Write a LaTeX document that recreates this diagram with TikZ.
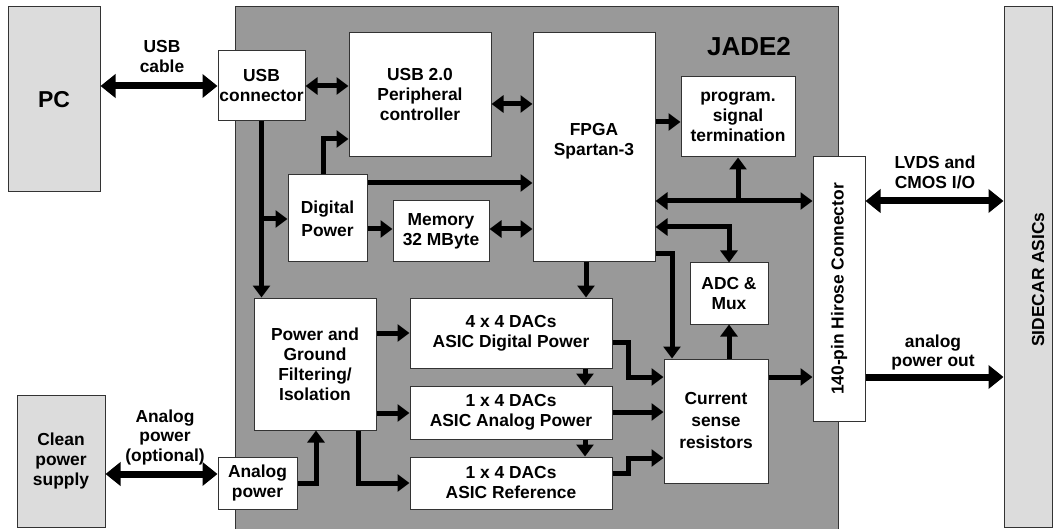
\documentclass[tikz,border=0pt]{standalone}
\usepackage{fontspec}
\setmainfont{Liberation Sans}
\usetikzlibrary{arrows.meta}
\definecolor{jadegray}{HTML}{999999}
\definecolor{extgray}{HTML}{DCDCDC}
\definecolor{edge}{HTML}{333333}
\begin{document}
\begin{tikzpicture}[x=1pt,y=-1pt,
  every node/.style={font=\bfseries\fontsize{17.4}{20}\selectfont, align=center, inner sep=0pt},
  box/.style={draw=edge, line width=1pt, fill=white},
  ext/.style={draw=edge, line width=1pt, fill=extgray},
  jadebox/.style={draw=edge, line width=1pt, fill=jadegray},
  arr/.style={line width=5pt, -{Triangle[length=12pt,width=17pt]}},
  darr/.style={line width=5pt, {Triangle[length=12pt,width=17pt]}-{Triangle[length=12pt,width=17pt]}},
  bigarr/.style={line width=7pt, -{Triangle[length=15pt,width=23pt]}},
  bigdarr/.style={line width=7pt, {Triangle[length=15pt,width=23pt]}-{Triangle[length=15pt,width=23pt]}},
  lbl/.style={font=\bfseries\fontsize{17.4}{19.5}\selectfont}]
\useasboundingbox (0,0) rectangle (1054,529);
\fill[white] (0,0) rectangle (1054,529);

% outer blocks
\node[jadebox, minimum width=603, minimum height=533] (jade) at (536.5,273.5) {};
\node[ext, minimum width=92, minimum height=185, font=\bfseries\fontsize{23}{26}\selectfont] (pc) at (54,99.5) {PC};
\node[ext, minimum width=88, minimum height=132] (clean) at (61,461) {Clean\\power\\supply};
\node[ext, minimum width=48, minimum height=520] (sidecar) at (1028,267) {};
\node[rotate=90] (sidetext) at (1038,279.5) {SIDECAR ASICs};
\node[font=\bfseries\fontsize{26}{30}\selectfont] (jadetext) at (749,47) {JADE2};

% inner blocks
\node[box, minimum width=87, minimum height=70] (usbc) at (261.5,86) {USB\\connector};
\node[box, minimum width=142, minimum height=124] (usb2) at (420,95) {USB 2.0\\Peripheral\\controller};
\node[box, minimum width=122, minimum height=229] (fpga) at (594,147.5) {};
\node (fpgatext) at (594,141) {FPGA\\Spartan-3};
\node[box, minimum width=114, minimum height=80] (prog) at (738,117) {program.\\signal\\termination};
\node[box, minimum width=52, minimum height=264] (hirose) at (839,289) {};
\node[rotate=90] (hirosetext) at (839,289) {140-pin Hirose Connector};
\node[box, minimum width=79, minimum height=87, font=\bfseries\fontsize{17.4}{23}\selectfont] (dp) at (327.5,218.5) {Digital\\Power};
\node[box, minimum width=96, minimum height=61] (mem) at (441,231.5) {Memory\\32 MByte};
\node[box, minimum width=78, minimum height=61] (adc) at (729,293.5) {ADC \&\\Mux};
\node[box, minimum width=104, minimum height=124, font=\bfseries\fontsize{17.4}{22}\selectfont] (cur) at (716,421) {Current\\sense\\resistors};
\node[box, minimum width=202, minimum height=70] (dac1) at (511,333) {4 x 4 DACs\\ASIC Digital Power};
\node[box, minimum width=202, minimum height=53] (dac2) at (511,412.5) {1 x 4 DACs\\ASIC Analog Power};
\node[box, minimum width=202, minimum height=52] (dac3) at (511,483) {1 x 4 DACs\\ASIC Reference};
\node[box, minimum width=122, minimum height=132] (pgfi) at (315,364) {Power and\\Ground\\Filtering/\\Isolation};
\node[box, minimum width=79, minimum height=52] (ap) at (257.5,483) {Analog\\power};

% external connections
\draw[bigdarr] (pc.east |- usbc.west) -- (usbc.west);
\node[lbl] (usblbl) at (162,56.5) {USB\\cable};
\draw[bigdarr] (clean.east |- 0,474) -- (ap.west |- 0,474);
\node[lbl] (aplbl) at (165,437) {Analog\\power\\(optional)};
\draw[bigdarr] (hirose.east |- 0,201) -- (sidecar.west |- 0,201);
\node[lbl] (lvdslbl) at (935,172.5) {LVDS and\\CMOS I/O};
\draw[bigarr] (hirose.east |- 0,377) -- (sidecar.west |- 0,377);
\node[lbl] (apolbl) at (933,352.5) {analog\\power out};

% internal connections
\draw[darr] (usbc.east) -- (usb2.west |- usbc.east);
\draw[darr] (usb2.east |- 0,104) -- (fpga.west |- 0,104);
\draw[arr] (fpga.east |- 0,122) -- (prog.west |- 0,122);
\draw[darr] (fpga.east |- 0,201) -- (hirose.west |- 0,201);
\draw[arr] (prog.south |- 0,201) -- (prog.south);
\draw[darr] (fpga.east |- 0,227) -| (adc.north);
\draw[arr] (fpga.east |- 0,254) -| (cur.north -| 672,0);
\draw[arr] (adc.south |- cur.north) -- (adc.south);
\draw[arr] (cur.east |- 0,377) -- (hirose.west |- 0,377);

\draw[arr] (fpga.south -| 586,0) -- (dac1.north -| 586,0);
\draw[arr] (dac1.south -| 585,0) -- (dac2.north -| 585,0);
\draw[arr] (dac2.south -| 585,0) -- (dac3.north -| 585,0);
\draw[arr] (dac1.east |- 0,342) -| (628,377) -- (cur.west |- 0,377);
\draw[arr] (dac2.east |- 0,412) -- (cur.west |- 0,412);
\draw[arr] (dac3.east |- 0,473) -| (628,458) -- (cur.west |- 0,458);

\draw[arr] (pgfi.east |- 0,333) -- (dac1.west |- 0,333);
\draw[arr] (pgfi.east |- 0,413) -- (dac2.west |- 0,413);
\draw[arr] (pgfi.south -| 358,0) |- (dac3.west);
\draw[arr] (ap.east) -| (pgfi.south -| 316,0);

\draw[arr] (usbc.south) -- (pgfi.north -| usbc.south);
\draw[arr] (usbc.south |- 0,219) -- (dp.west |- 0,219);
\draw[arr] (dp.north -| 323,0) |- (usb2.west |- 0,139);
\draw[arr] (dp.east |- 0,183) -- (fpga.west |- 0,183);
\draw[arr] (dp.east |- 0,229) -- (mem.west |- 0,229);
\draw[darr] (mem.east |- 0,229) -- (fpga.west |- 0,229);
\end{tikzpicture}
\end{document}
